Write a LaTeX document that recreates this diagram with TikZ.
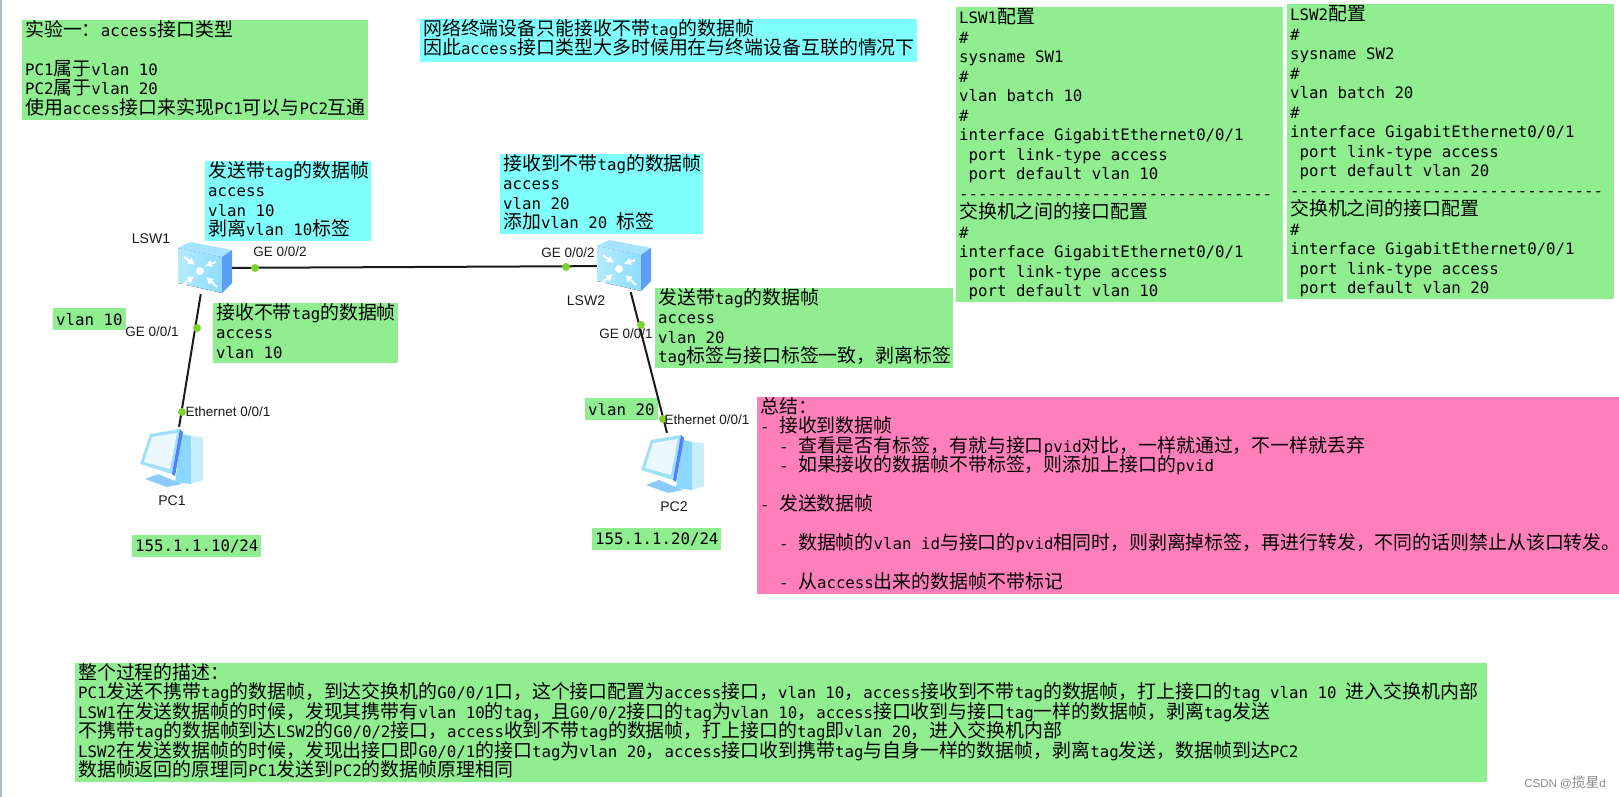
\documentclass[tikz,border=0pt]{standalone}
\usepackage{fontspec}
\setmonofont{DejaVu Sans Mono}
\setsansfont{Liberation Sans}
\newfontfamily\cjkfont[Scale=1.2]{Noto Sans CJK SC}
\usetikzlibrary{arrows.meta,positioning}
\newXeTeXintercharclass\cjkclass
\newcount\charcnt
\charcnt="4E00
\loop
  \XeTeXcharclass\charcnt=\cjkclass
  \ifnum\charcnt<"9FFF \advance\charcnt 1 \repeat
\XeTeXcharclass"FF0C=\cjkclass
\XeTeXcharclass"FF1A=\cjkclass
\XeTeXcharclass"3002=\cjkclass
\XeTeXinterchartoks 0 \cjkclass={\begingroup\cjkfont}
\XeTeXinterchartoks 4095 \cjkclass={\begingroup\cjkfont}
\XeTeXinterchartoks \cjkclass 0={\endgroup}
\XeTeXinterchartoks \cjkclass 4095={\endgroup}
\XeTeXinterchartokenstate=1
\definecolor{notegreen}{HTML}{90EE90}
\definecolor{notecyan}{HTML}{80FFFF}
\definecolor{notepink}{HTML}{FF7FBB}
\definecolor{portgreen}{HTML}{7FD132}
\definecolor{stripblue}{HTML}{A8BCD4}
\definecolor{cubefront}{HTML}{B4EBFF}
\definecolor{cubeshade}{HTML}{8FDDFF}
\definecolor{cubetop}{HTML}{A6E3FF}
\definecolor{cubeside}{HTML}{5C9EF5}
\newcommand{\dashrule}{---------------------------------}
\newcommand{\notetext}[3]{\parbox[b][#1][t]{#2}{\raggedright #3}}

\begin{document}
\begin{tikzpicture}[
  x=1pt, y=-1pt,
  notebox/.style={rectangle, anchor=north west, inner xsep=3pt, inner ysep=0pt, font=\fontsize{15.75}{19.5}\selectfont\ttfamily},
  greenbox/.style={notebox, fill=notegreen},
  cyanbox/.style={notebox, fill=notecyan},
  pinkbox/.style={notebox, fill=notepink},
  device/.style={rectangle, inner sep=0pt, minimum width=54pt, minimum height=52pt},
  computer/.style={rectangle, inner sep=0pt, minimum width=62pt, minimum height=62pt},
  link/.style={draw=black!90, line width=2pt},
  portdot/.style={circle, fill=portgreen, inner sep=0pt, minimum size=8pt},
  devlabel/.style={inner sep=0pt, text=black!90, font=\sffamily\fontsize{14}{16}\selectfont},
  portlabel/.style={inner sep=0pt, text=black!90, font=\sffamily\fontsize{13.5}{16}\selectfont},
  switchicon/.pic={
    \fill[left color=cubefront, right color=cubeshade] (-27,-20) -- (17,-11) -- (17,25) -- (-27,15) -- cycle;
    \fill[cubetop] (-27,-20) -- (-15,-26) -- (27,-18) -- (17,-11) -- cycle;
    \fill[cubeside] (17,-11) -- (27,-18) -- (27,15) -- (17,25) -- cycle;
    \fill[white] (-5,3) circle (4);
    \foreach \sx/\sy/\ex/\ey in {-21/-11/-10/-3, 11/-6/0/-2, -22/17/-11/8, 12/19/1/9}
      \draw[white, line width=2pt, -{Latex[length=7pt,width=8pt]}] (\sx,\sy) -- (\ex,\ey);
  },
  pcicon/.pic={
    \fill[blue!35!cyan!45] (8,-24) -- (17,-22) -- (17,26) -- (1,24) -- cycle;
    \fill[cyan!22] (17,-22) -- (29,-21) -- (29,22) -- (17,26) -- cycle;
    \fill[blue!45!cyan!45] (-29,21) -- (-16,16) -- (8,26) -- (-7,29) -- cycle;
    \fill[cyan!38] (-24,-24) -- (6,-29) -- (-2,16) -- (-34,6) -- cycle;
    \fill[cyan!8] (-22,-21) -- (3,-25) -- (-4,11) -- (-30,4) -- cycle;
    \fill[blue!70!cyan!70] (6,-29) -- (9,-26) -- (1,18) -- (-2,16) -- cycle;
  }
]
\useasboundingbox (0,0) rectangle (1619,797);
\fill[stripblue] (0,0) rectangle (2,797);

\node[greenbox] (intro) at (22,20) {\notetext{100pt}{340pt}{实验一：access接口类型\\[19.5pt]PC1属于vlan 10\\PC2属于vlan 20\\使用access接口来实现PC1可以与PC2互通}};
\node[cyanbox] (remark) at (420,19) {\notetext{43pt}{491pt}{网络终端设备只能接收不带tag的数据帧\\因此access接口类型大多时候用在与终端设备互联的情况下}};
\node[cyanbox] (sendone) at (205,161) {\notetext{80pt}{160pt}{发送带tag的数据帧\\access\\vlan 10\\剥离vlan 10标签}};
\node[cyanbox] (recvtwo) at (500,154) {\notetext{80pt}{197pt}{接收到不带tag的数据帧\\access\\vlan 20\\添加vlan 20 标签}};
\node[greenbox] (recvone) at (213,303) {\notetext{60pt}{179pt}{接收不带tag的数据帧\\access\\vlan 10}};
\node[greenbox] (sendtwo) at (655,288) {\notetext{80pt}{292pt}{发送带tag的数据帧\\access\\vlan 20\\tag标签与接口标签一致，剥离标签}};
\node[greenbox, minimum height=22pt] (vlanone) at (53,308) {vlan 10};
\node[greenbox, minimum height=22pt] (vlantwo) at (585,398) {vlan 20};
\node[greenbox, minimum height=22pt] (ipone) at (132,535) {155.1.1.10/24};
\node[greenbox, minimum height=22pt] (iptwo) at (592,528) {155.1.1.20/24};

\node[greenbox] (cfgone) at (956,7) {\notetext{295pt}{321pt}{\vspace*{1.5pt}LSW1配置\\\#\\sysname SW1\\\#\\vlan batch 10\\\#\\interface GigabitEthernet0/0/1\\\ port link-type access\\\ port default vlan 10\\\dashrule\\交换机之间的接口配置\\\#\\interface GigabitEthernet0/0/1\\\ port link-type access\\\ port default vlan 10}};
\node[greenbox] (cfgtwo) at (1287,4) {\notetext{295pt}{321pt}{\vspace*{1.5pt}LSW2配置\\\#\\sysname SW2\\\#\\vlan batch 20\\\#\\interface GigabitEthernet0/0/1\\\ port link-type access\\\ port default vlan 20\\\dashrule\\交换机之间的接口配置\\\#\\interface GigabitEthernet0/0/1\\\ port link-type access\\\ port default vlan 20}};

\node[pinkbox] (summary) at (757,397) {\notetext{197pt}{856pt}{总结：\\- 接收到数据帧\\\ \ - 查看是否有标签，有就与接口pvid对比，一样就通过，不一样就丢弃\\\ \ - 如果接收的数据帧不带标签，则添加上接口的pvid\\[19.5pt]- 发送数据帧\\[19.5pt]\mbox{\ \ - 数据帧的vlan id与接口的pvid相同时，则剥离掉标签，再进行转发，不同的话则禁止从该口转发。}\\[19.5pt]\ \ - 从access出来的数据帧不带标记}};
\node[greenbox] (process) at (75,663) {\notetext{119pt}{1406pt}{整个过程的描述：\\PC1发送不携带tag的数据帧，到达交换机的G0/0/1口，这个接口配置为access接口，vlan 10，access接收到不带tag的数据帧，打上接口的tag vlan 10 进入交换机内部\\LSW1在发送数据帧的时候，发现其携带有vlan 10的tag，且G0/0/2接口的tag为vlan 10，access接口收到与接口tag一样的数据帧，剥离tag发送\\不携带tag的数据帧到达LSW2的G0/0/2接口，access收到不带tag的数据帧，打上接口的tag即vlan 20，进入交换机内部\\LSW2在发送数据帧的时候，发现出接口即G0/0/1的接口tag为vlan 20，access接口收到携带tag与自身一样的数据帧，剥离tag发送，数据帧到达PC2\\数据帧返回的原理同PC1发送到PC2的数据帧原理相同}};

\node[device] (lsw1) at (205,268) {};
\node[device] (lsw2) at (624,266) {};
\node[computer] (pc1) at (174,458) {};
\node[computer] (pc2) at (675,464) {};

\draw[link] (lsw1) -- (lsw2);
\draw[link] (lsw1) -- (pc1);
\draw[link] (lsw2) -- (pc2);

\pic at (lsw1) {switchicon};
\pic at (lsw2) {switchicon};
\pic at (pc1) {pcicon};
\pic at (pc2) {pcicon};

\node[portdot] (dotone) at (255,268) {};
\node[portdot] (dottwo) at (197,328) {};
\node[portdot] (dotthree) at (182,412) {};
\node[portdot] (dotfour) at (566,267) {};
\node[portdot] (dotfive) at (641,325) {};
\node[portdot] (dotsix) at (663,419) {};

\node[devlabel] (nameone) at (151,239) {LSW1};
\node[devlabel] (nametwo) at (586,301) {LSW2};
\node[devlabel] (namethree) at (172,501) {PC1};
\node[devlabel] (namefour) at (674,507) {PC2};
\node[portlabel] (portone) at (280,252) {GE 0/0/2};
\node[portlabel] (porttwo) at (152,332) {GE 0/0/1};
\node[portlabel] (portthree) at (228,412) {Ethernet 0/0/1};
\node[portlabel] (portfour) at (568,253) {GE 0/0/2};
\node[portlabel] (portfive) at (626,334) {GE 0/0/1};
\node[portlabel] (portsix) at (707,420) {Ethernet 0/0/1};

\node[inner sep=0pt, text=black!45, font=\sffamily\fontsize{11.5}{14}\selectfont] (credit) at (1565,782) {CSDN @揽星d};
\end{tikzpicture}
\end{document}
